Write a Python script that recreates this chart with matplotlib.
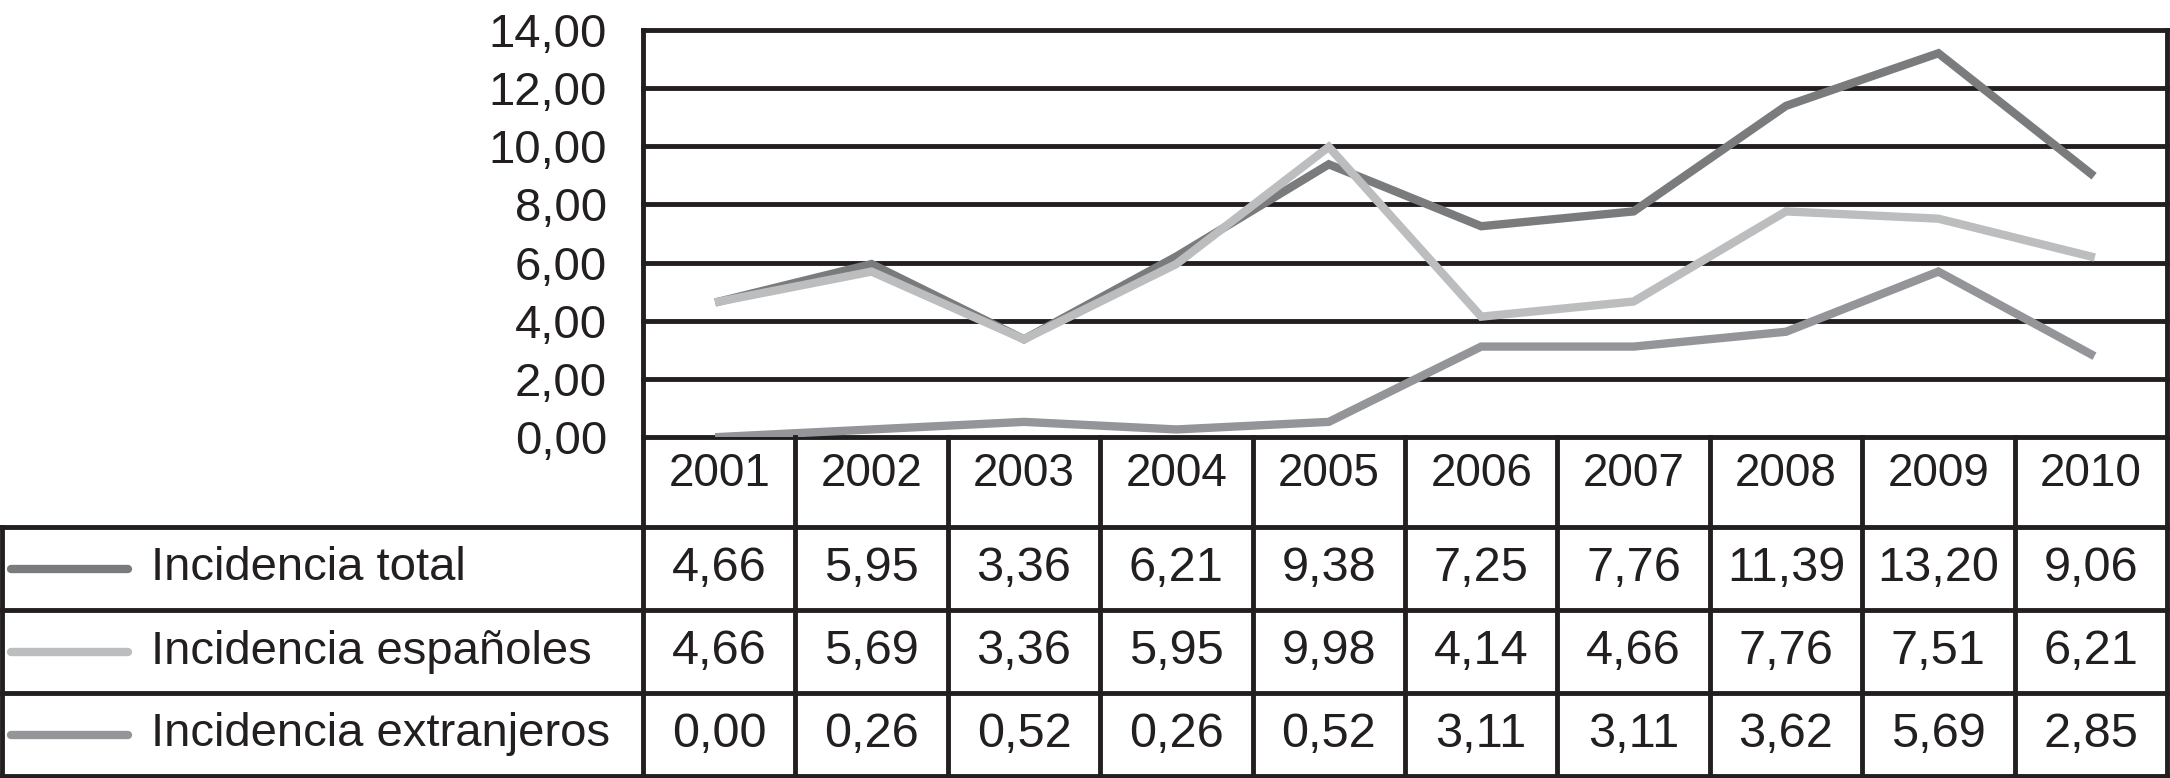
import matplotlib.pyplot as plt

# Datos
anios = ['2001', '2002', '2003', '2004', '2005', '2006', '2007', '2008', '2009', '2010']
total = [4.66, 5.95, 3.36, 6.21, 9.38, 7.25, 7.76, 11.39, 13.20, 9.06]
espanoles = [4.66, 5.69, 3.36, 5.95, 9.98, 4.14, 4.66, 7.76, 7.51, 6.21]
extranjeros = [0.00, 0.26, 0.52, 0.26, 0.52, 3.11, 3.11, 3.62, 5.69, 2.85]
nombres = ['Incidencia total', 'Incidencia españoles', 'Incidencia extranjeros']
colores = ['#7a7b7d', '#bcbdbf', '#939598']
yticks = [0, 2, 4, 6, 8, 10, 12, 14]

plt.rcParams['font.family'] = ['Liberation Sans', 'DejaVu Sans']
negro = '#231f20'
W, H = 2170, 778
fig = plt.figure(figsize=(W / 100, H / 100), dpi=100)

# zona del grafico (en pixeles)
x0, x1, ytop, ycero, yfin = 643, 2167, 30, 437, 776
ax = fig.add_axes([x0 / W, (H - ycero) / H, (x1 - x0) / W, (ycero - ytop) / H])
n = len(anios)
xs = list(range(n))
series = [total, espanoles, extranjeros]
for s, c in zip(series, colores):
    ax.plot(xs, s, color=c, lw=6, solid_joinstyle='miter', zorder=3)
ax.set_xlim(-0.5, n - 0.5)
ax.set_ylim(0, 14)
ax.set_yticks(yticks)
ax.set_yticklabels([f'{v:.2f}'.replace('.', ',') for v in yticks], fontsize=34, color=negro)
ax.tick_params(axis='y', length=0, pad=26)
ax.set_xticks([])
for v in yticks:
    ax.axhline(v, color=negro, lw=3.5, zorder=2, clip_on=False)
for sp in ax.spines.values():
    sp.set_color(negro)
    sp.set_linewidth(3.5)
ax.spines['top'].set_visible(False)
ax.spines['bottom'].set_visible(False)

# tabla de datos debajo
tax = fig.add_axes([x0 / W, (H - yfin) / H, (x1 - x0) / W, (yfin - ycero) / H], sharex=ax)
tax.set_ylim(yfin - ycero, 0)
tax.axis('off')
fila0 = 90
alto = 83
xizq = -0.5 - (x0 - 2) / ((x1 - x0) / n)
kw = dict(color=negro, lw=3.5, clip_on=False)
# lineas horizontales
for i in range(4):
    yy = fila0 + i * alto
    tax.plot([xizq, n - 0.5], [yy, yy], **kw)
# verticales
for j in range(n + 1):
    tax.plot([j - 0.5, j - 0.5], [0, fila0 + 3 * alto], **kw)
tax.plot([xizq, xizq], [fila0, fila0 + 3 * alto], **kw)

for j, a in enumerate(anios):
    tax.text(j, fila0 / 2 - 8, a, ha='center', va='center', fontsize=33, color=negro)
for i, (s, nom, c) in enumerate(zip(series, nombres, colores)):
    yc = fila0 + i * alto + alto / 2
    for j, v in enumerate(s):
        tax.text(j, yc, f'{v:.2f}'.replace('.', ','), ha='center', va='center',
                 fontsize=35, color=negro)
    tax.plot([xizq + 0.06, xizq + 0.83], [yc, yc], color=c, lw=6,
             solid_capstyle='round', clip_on=False)
    tax.text(xizq + 0.98, yc, nom, ha='left', va='center', fontsize=34, color=negro)

fig.savefig('out.png', dpi=100)
